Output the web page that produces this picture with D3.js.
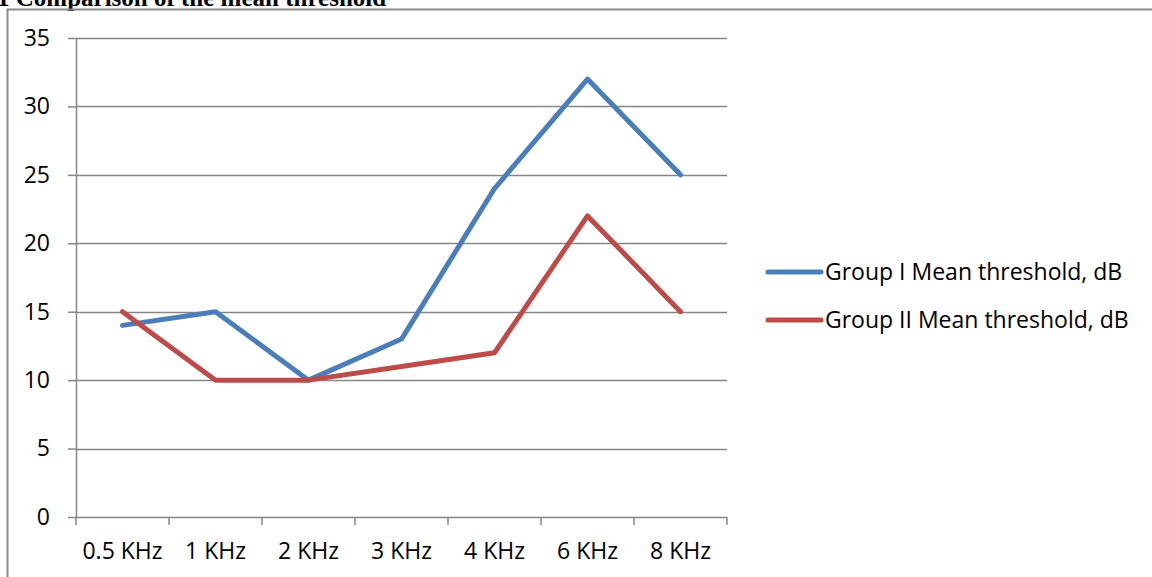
<!DOCTYPE html>
<html>
<head>
<meta charset="utf-8">
<script src="https://cdn.jsdelivr.net/npm/d3@7"></script>
<style>
  html, body { margin: 0; padding: 0; background: #fff; overflow: hidden; }
  svg { display: block; }
</style>
</head>
<body>
<svg id="chart" width="1152" height="577"></svg>
<script>
// Hearing threshold by frequency, two groups
const frequencies = ["0.5 KHz", "1 KHz", "2 KHz", "3 KHz", "4 KHz", "6 KHz", "8 KHz"];
const groupI = [14, 15, 10, 13, 24, 32, 25];
const groupII = [15, 10, 10, 11, 12, 22, 15];
const seriesNames = ["Group I Mean threshold, dB", "Group II Mean threshold, dB"];
const yTicks = [0, 5, 10, 15, 20, 25, 30, 35];
const titleText = "1 Comparison of the mean threshold";

const colors = ["#4a7ebb", "#be4b48"];
const font = "'Open Sans', sans-serif";
const fontSize = 23;

const svg = d3.select("#chart");

// Caption above the chart frame
svg.append("text")
  .attr("x", -3)
  .attr("y", 6)
  .attr("font-family", "'Liberation Serif', 'Times New Roman', serif")
  .attr("font-weight", "bold")
  .attr("font-size", 25)
  .attr("fill", "#000")
  .text(titleText);

// Chart frame (left and top edges)
svg.append("path")
  .attr("d", "M7.5,577 V9.5 H1152")
  .attr("fill", "none")
  .attr("stroke", "#8a8a8a")
  .attr("stroke-width", 2);

const plot = { left: 76, right: 727, top: 38, bottom: 517 };

const x = d3.scaleBand()
  .domain(frequencies)
  .range([plot.left, plot.right])
  .paddingInner(0).paddingOuter(0);

const y = d3.scaleLinear()
  .domain([0, 35])
  .range([plot.bottom, plot.top]);

// Horizontal gridlines
svg.append("g")
  .selectAll("line")
  .data(yTicks.filter(d => d > 0))
  .join("line")
  .attr("x1", plot.left)
  .attr("x2", plot.right)
  .attr("y1", d => Math.round(y(d)) + 0.5)
  .attr("y2", d => Math.round(y(d)) + 0.5)
  .attr("stroke", "#868686")
  .attr("stroke-width", 1.5);

// Y axis
const yAxis = svg.append("g")
  .attr("transform", `translate(${plot.left},0)`)
  .call(d3.axisLeft(y).tickValues(yTicks).tickSize(8).tickPadding(18).tickSizeOuter(0));
yAxis.select(".domain").attr("stroke", "#868686").attr("stroke-width", 1.5);
yAxis.selectAll(".tick line").attr("stroke", "#868686").attr("stroke-width", 1.5);
yAxis.selectAll(".tick text")
  .attr("font-family", font)
  .attr("font-size", fontSize)
  .attr("fill", "#000");

// X axis with ticks at category boundaries
const xAxis = svg.append("g")
  .attr("transform", `translate(0,${plot.bottom})`)
  .call(d3.axisBottom(x).tickSize(0).tickPadding(26));
xAxis.select(".domain")
  .attr("d", `M${plot.left},0.5H${plot.right}`)
  .attr("stroke", "#868686").attr("stroke-width", 1.5);
xAxis.selectAll(".tick text")
  .attr("font-family", font)
  .attr("font-size", fontSize)
  .attr("fill", "#000")
  .attr("dy", "0.71em");
const boundaries = frequencies.map(f => x(f)).concat([x(frequencies[frequencies.length - 1]) + x.bandwidth()]);
xAxis.append("g")
  .selectAll("line")
  .data(boundaries)
  .join("line")
  .attr("x1", d => d).attr("x2", d => d)
  .attr("y1", 0).attr("y2", 8)
  .attr("stroke", "#868686")
  .attr("stroke-width", 1.5);

// Series lines
const line = d3.line()
  .x((d, i) => x(frequencies[i]) + x.bandwidth() / 2)
  .y(d => y(d));

[groupI, groupII].forEach((vals, k) => {
  svg.append("path")
    .datum(vals)
    .attr("d", line)
    .attr("fill", "none")
    .attr("stroke", colors[k])
    .attr("stroke-width", 5)
    .attr("stroke-linejoin", "round")
    .attr("stroke-linecap", "round");
});

// Legend
const legend = svg.append("g");
seriesNames.forEach((name, k) => {
  const ly = 272 + k * 48;
  legend.append("line")
    .attr("x1", 768).attr("x2", 821)
    .attr("y1", ly).attr("y2", ly)
    .attr("stroke", colors[k])
    .attr("stroke-width", 5)
    .attr("stroke-linecap", "round");
  legend.append("text")
    .attr("x", 825)
    .attr("y", ly)
    .attr("dy", "0.35em")
    .attr("font-family", font)
    .attr("font-size", fontSize)
    .attr("fill", "#000")
    .text(name);
});
</script>
</body>
</html>
